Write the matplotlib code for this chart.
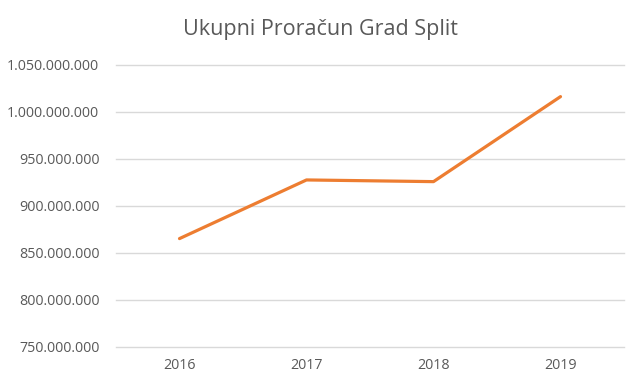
import matplotlib
matplotlib.use("Agg")
import matplotlib.pyplot as plt
from matplotlib.ticker import FuncFormatter, MultipleLocator

years = ["2016", "2017", "2018", "2019"]
budget = [865_000_000, 927_500_000, 925_700_000, 1_016_300_000]
title = "Ukupni Proračun Grad Split"

TEXT = "#595959"
GRID = "#D9D9D9"
LINE = "#ED7D31"

plt.rcParams["font.family"] = ["Open Sans", "DejaVu Sans"]

fig = plt.figure(figsize=(6.39, 3.83), dpi=100)
ax = fig.add_axes([116/639, (383-346.5)/383, (624-116)/639, (346.5-65)/383])

x = list(range(len(years)))
ax.plot(x, budget, color=LINE, linewidth=2.3, solid_capstyle="round", solid_joinstyle="round", zorder=3)

ax.set_xlim(-0.5, len(years) - 0.5)
ax.set_ylim(750_000_000, 1_050_000_000)
ax.yaxis.set_major_locator(MultipleLocator(50_000_000))
ax.yaxis.set_major_formatter(FuncFormatter(lambda v, p: f"{v:,.0f}".replace(",", ".")))
ax.set_xticks(x)
ax.set_xticklabels(years)

ax.grid(axis="y", color=GRID, linewidth=1.0, zorder=0)
for gl in ax.get_ygridlines():
    gl.set_clip_on(False)
ax.set_axisbelow(True)
for s in ax.spines.values():
    s.set_visible(False)
ax.tick_params(axis="both", length=0, labelsize=10.3, colors=TEXT)
ax.tick_params(axis="y", pad=12)
ax.tick_params(axis="x", pad=8)

fig.text(320/639, 1 - 29/383, title, ha="center", va="center", fontsize=15.5, color=TEXT)

fig.savefig("out.png", dpi=100, facecolor="white")
